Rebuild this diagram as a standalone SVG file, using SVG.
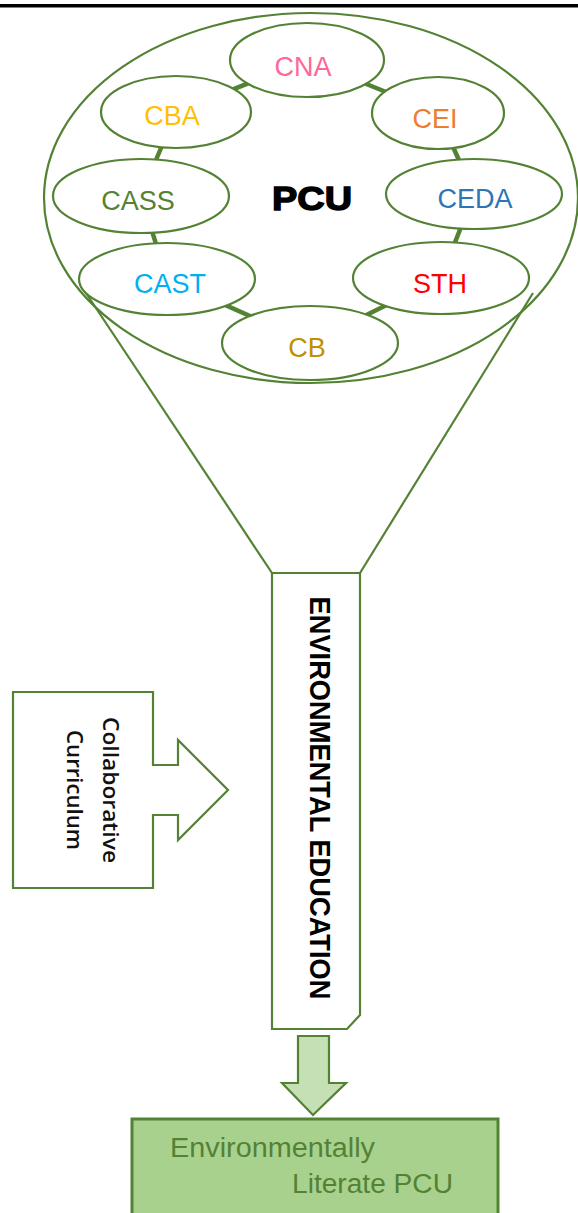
<svg xmlns="http://www.w3.org/2000/svg" width="578" height="1213" viewBox="0 0 578 1213">
<style>
.ln{stroke:#548235;fill:none;stroke-width:2.2}
.node{stroke:#548235;fill:#ffffff;stroke-width:2.2}
.link{stroke:#548235;stroke-width:4.5;fill:none}
.lbl{font-family:"Liberation Sans",Arial,sans-serif;font-size:27px;text-anchor:middle}
.vt{font-family:"Open Sans","Liberation Sans",sans-serif;font-size:22px;font-weight:600;text-anchor:middle;fill:#111}
</style>
<rect x="0" y="4" width="578" height="3.5" fill="#000"/>
<g id="funnel">
<ellipse class="ln" cx="311" cy="198" rx="267" ry="185"/>
<line class="ln" x1="84" y1="290" x2="272" y2="573"/>
<line class="ln" x1="533" y1="293" x2="360" y2="573"/>
</g>
<g id="connectors">
<line class="link" x1="307" y1="60" x2="176" y2="112"/>
<line class="link" x1="176" y1="112" x2="141" y2="196"/>
<line class="link" x1="141" y1="196" x2="167" y2="279"/>
<line class="link" x1="167" y1="279" x2="310" y2="343"/>
<line class="link" x1="310" y1="343" x2="441" y2="278"/>
<line class="link" x1="441" y1="278" x2="474" y2="194"/>
<line class="link" x1="474" y1="194" x2="438" y2="113"/>
<line class="link" x1="438" y1="113" x2="307" y2="60"/>
</g>
<g id="n-cna"><ellipse class="node" cx="307" cy="60" rx="77" ry="37"/><text class="lbl" x="303" y="76" fill="#ff6699">CNA</text></g>
<g id="n-cba"><ellipse class="node" cx="176" cy="112" rx="75" ry="36"/><text class="lbl" x="172" y="125" fill="#ffc000">CBA</text></g>
<g id="n-cei"><ellipse class="node" cx="438" cy="113" rx="66" ry="36"/><text class="lbl" x="435" y="128" fill="#ed7d31">CEI</text></g>
<g id="n-cass"><ellipse class="node" cx="141" cy="196" rx="88" ry="37"/><text class="lbl" x="138" y="210" fill="#548235">CASS</text></g>
<g id="n-ceda"><ellipse class="node" cx="474" cy="194" rx="88" ry="35"/><text class="lbl" x="475" y="208" fill="#2e75b6">CEDA</text></g>
<g id="n-cast"><ellipse class="node" cx="167" cy="279" rx="88" ry="36"/><text class="lbl" x="170" y="293" fill="#00b0f0">CAST</text></g>
<g id="n-sth"><ellipse class="node" cx="441" cy="278" rx="88" ry="36"/><text class="lbl" x="440" y="293" fill="#ff0000">STH</text></g>
<g id="n-cb"><ellipse class="node" cx="310" cy="343" rx="88" ry="37"/><text class="lbl" x="307" y="357" fill="#bf9000">CB</text></g>
<g id="n-pcu"><text x="312" y="210" font-family="'Liberation Sans',Arial,sans-serif" font-size="34" font-weight="bold" text-anchor="middle" fill="#000" stroke="#000" stroke-width="1.4" textLength="80" lengthAdjust="spacingAndGlyphs">PCU</text></g>
<g id="n-ee">
<path class="ln" d="M272 573 H360 V1015 L347 1029 H272 Z" fill="#fff"/>
<text transform="translate(310 798) rotate(90)" font-family="'Liberation Sans',Arial,sans-serif" font-size="30" font-weight="bold" text-anchor="middle" fill="#000" textLength="403" lengthAdjust="spacingAndGlyphs">ENVIRONMENTAL EDUCATION</text>
</g>
<g id="n-cc">
<path class="ln" d="M13 692 H153 V765 H178 V740 L228 790 L178 840 V815 H153 V888 H13 Z" fill="#fff"/>
<text class="vt" transform="translate(103 790) rotate(90)" textLength="146" lengthAdjust="spacingAndGlyphs">Collaborative</text>
<text class="vt" transform="translate(67 790) rotate(90)" textLength="120" lengthAdjust="spacingAndGlyphs">Curriculum</text>
</g>
<g id="arrow-down">
<path d="M298 1036 H329 V1083 H346 L313 1115 L282 1083 H298 Z" fill="#c5e0b4" stroke="#548235" stroke-width="2.2"/>
</g>
<g id="n-elpcu">
<rect x="132" y="1119" width="366" height="100" fill="#a9d18e" stroke="#548235" stroke-width="3"/>
<text x="170" y="1157" font-family="'Liberation Sans',Arial,sans-serif" font-size="27" fill="#548235" textLength="205" lengthAdjust="spacingAndGlyphs">Environmentally</text>
<text x="292" y="1193" font-family="'Liberation Sans',Arial,sans-serif" font-size="27" fill="#548235" textLength="161" lengthAdjust="spacingAndGlyphs">Literate PCU</text>
</g>
</svg>
